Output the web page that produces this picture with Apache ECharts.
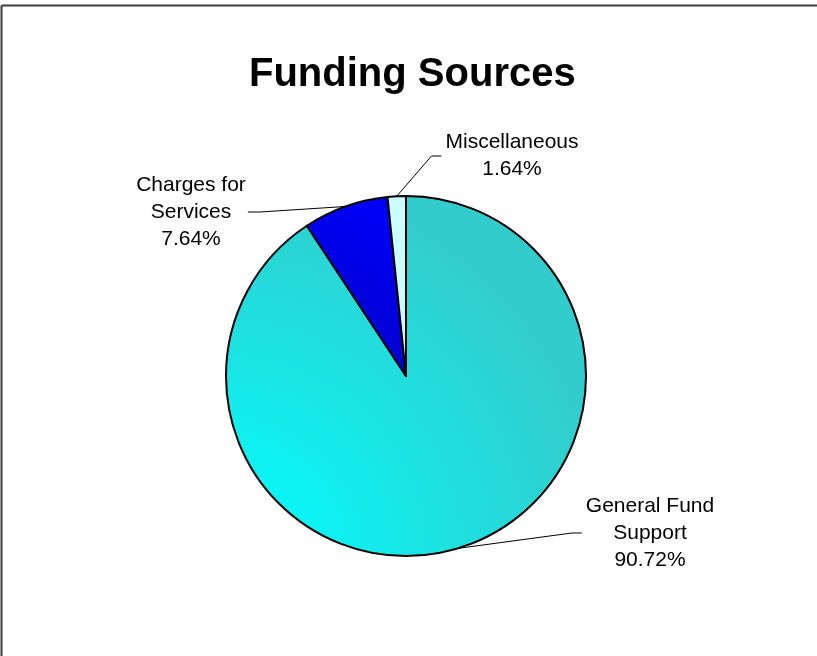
<!DOCTYPE html>
<html>
<head>
<meta charset="utf-8">
<script src="https://cdn.jsdelivr.net/npm/echarts@6/dist/echarts.min.js"></script>
<style>
  html, body { margin: 0; padding: 0; background: #fff; }
  #chart { width: 817px; height: 656px; }
</style>
</head>
<body>
<div id="chart"></div>
<script>
// Funding sources, share of total (%)
const sourceNames = ['General Fund\nSupport', 'Charges for\nServices', 'Miscellaneous'];
const sourceShares = [90.72, 7.64, 1.64];

// Where each label block is centred, and which side its leader line attaches to
const labelSpots = [
  { x: 650, y: 533, side: 'left' },
  { x: 191, y: 212, side: 'right' },
  { x: 512, y: 156, side: 'left' }
];

const sliceFills = [
  new echarts.graphic.RadialGradient(0, 1, 1.05, [
    { offset: 0, color: '#00ffff' },
    { offset: 1, color: '#33cccc' }
  ]),
  new echarts.graphic.LinearGradient(0, 1, 1, 0, [
    { offset: 0, color: '#0000c0' },
    { offset: 1, color: '#0000ff' }
  ]),
  '#ccffff'
];

const chart = echarts.init(document.getElementById('chart'), null, { renderer: 'canvas' });

chart.setOption({
  animation: false,
  backgroundColor: '#ffffff',
  title: {
    text: 'Funding Sources',
    left: 244,
    top: 50,
    textStyle: {
      fontFamily: 'Liberation Sans, Arial, sans-serif',
      fontSize: 40,
      fontWeight: 'bold',
      color: '#000'
    }
  },
  graphic: [
    { type: 'line', shape: { x1: 1.5, y1: 5.5, x2: 817, y2: 5.5 }, style: { stroke: '#3a3a3a', lineWidth: 2 } },
    { type: 'line', shape: { x1: 1.5, y1: 5.5, x2: 1.5, y2: 656 }, style: { stroke: '#3a3a3a', lineWidth: 2 } }
  ],
  series: [{
    type: 'pie',
    center: [406, 376],
    radius: 180,
    startAngle: 90,
    clockwise: true,
    avoidLabelOverlap: false,
    itemStyle: { borderColor: '#000', borderWidth: 2 },
    emphasis: { disabled: true },
    label: {
      show: true,
      position: 'outside',
      fontFamily: 'Liberation Sans, Arial, sans-serif',
      fontSize: 21,
      lineHeight: 27,
      color: '#000',
      align: 'center',
      formatter: p => p.name + '\n' + p.value.toFixed(2) + '%'
    },
    labelLine: {
      show: true,
      length: 20,
      length2: 10,
      lineStyle: { color: '#000', width: 1 }
    },
    labelLayout: function (params) {
      const spot = labelSpots[params.dataIndex];
      const w = params.labelRect.width;
      const anchor = params.labelLinePoints ? params.labelLinePoints[0] : null;
      const out = { x: spot.x, y: spot.y, align: 'center', verticalAlign: 'middle' };
      if (anchor) {
        let endX, elbowX;
        if (spot.side === 'left') {
          endX = spot.x - w / 2 - 4;
          elbowX = endX - 10;
        } else {
          endX = spot.x + w / 2 + 2;
          elbowX = endX + 12;
        }
        out.labelLinePoints = [anchor, [elbowX, spot.y], [endX, spot.y]];
      }
      return out;
    },
    data: sourceNames.map((name, i) => ({
      name: name,
      value: sourceShares[i],
      itemStyle: { color: sliceFills[i] }
    }))
  }]
});
</script>
</body>
</html>
